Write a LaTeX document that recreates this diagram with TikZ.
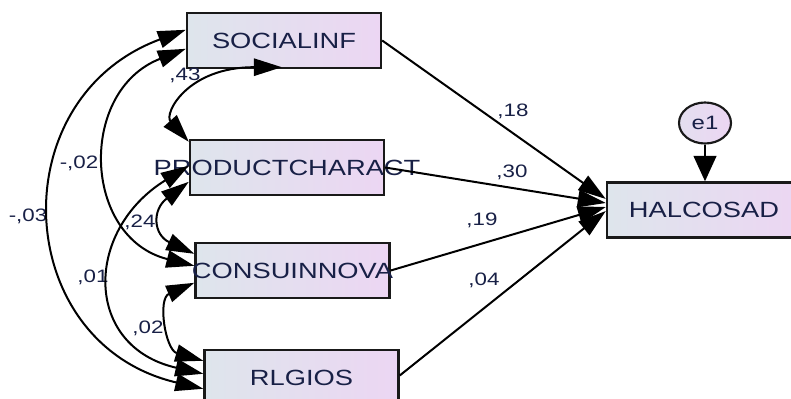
\documentclass[tikz,border=0pt]{standalone}
\usepackage{fontspec}
\setmainfont{Liberation Sans}
\usepackage{graphicx}
\usetikzlibrary{arrows.meta,calc,shapes.geometric}
\definecolor{boxL}{RGB}{222,229,236}
\definecolor{boxR}{RGB}{236,214,243}
\definecolor{txt}{RGB}{24,32,70}
\newcommand\wide[1]{\scalebox{1.24}[1]{#1}}
\begin{document}
\begin{tikzpicture}[x=0.75pt,y=-0.75pt,
  >={Triangle[length=21pt,width=13pt]},
  var/.style={draw=black!90, line width=1.8pt, left color=boxL, right color=boxR,
    minimum width=145.5pt, minimum height=41.25pt, inner sep=0pt, text=txt,
    font=\fontsize{16.5}{16.5}\selectfont},
  err/.style={ellipse, draw=black!90, line width=1.6pt, left color=boxL!60!boxR, right color=boxR,
    minimum width=39pt, minimum height=30.75pt, inner sep=0pt, text=txt,
    font=\fontsize{14.5}{14.5}\selectfont},
  lab/.style={text=txt, inner sep=0pt, font=\fontsize{13.5}{13.5}\selectfont},
  cov/.style={<->, line width=1.5pt, black},
  reg/.style={->, line width=1.5pt, black}]
\clip (0,0) rectangle (791,399);
\fill[white] (0,0) rectangle (791,399);
% variables
\node[var] (si) at (284,40.5) {\makebox[0pt]{\wide{SOCIALINF}}};
\node[var] (pc) at (287,167.5) {\makebox[0pt]{\wide{PRODUCTCHARACT}}};
\node[var] (ci) at (292.5,270.5) {\makebox[0pt]{\wide{CONSUINNOVA}}};
\node[var] (rg) at (301.5,377.5) {\makebox[0pt]{\wide{RLGIOS}}};
\node[var] (hc) at (704,210) {\makebox[0pt]{\wide{HALCOSAD}}};
\node[err] (e1) at (705,123) {\wide{e1}};
% labels
\node[lab] (l18) at (513,111) {\wide{,18}};
\node[lab] (l30) at (512,172) {\wide{,30}};
\node[lab] (l19) at (482,220) {\wide{,19}};
\node[lab] (l04) at (484,280) {\wide{,04}};
\node[lab] (l43) at (185,75) {\wide{,43}};
\node[lab] (lm02) at (79,163) {\wide{-,02}};
\node[lab] (lm03) at (28,216) {\wide{-,03}};
\node[lab] (l24) at (140,222) {\wide{,24}};
\node[lab] (l01) at (93,277) {\wide{,01}};
\node[lab] (l02) at (148,328) {\wide{,02}};
% endpoints on the boxes
\coordinate (siA) at ($(si.north west)+(0,18)$);
\coordinate (siB) at ($(si.north west)+(0,37)$);
\coordinate (siC) at ($(si.south west)+(96,-2)$);
\coordinate (pcA) at ($(pc.north west)+(0,3)$);
\coordinate (pcB) at ($(pc.north west)+(0,27)$);
\coordinate (pcC) at ($(pc.north west)+(0,43)$);
\coordinate (ciA) at ($(ci.north west)+(0,12)$);
\coordinate (ciB) at ($(ci.north west)+(0,24)$);
\coordinate (ciC) at ($(ci.north west)+(0,41)$);
\coordinate (rgA) at ($(rg.north west)+(0,12)$);
\coordinate (rgB) at ($(rg.north west)+(0,25)$);
\coordinate (rgC) at ($(rg.north west)+(0,40)$);
\coordinate (hcA) at ($(hc.west)+(0,-11)$);
\coordinate (hcB) at ($(hc.west)+(0,-7)$);
\coordinate (hcC) at ($(hc.west)+(0,-3)$);
\coordinate (hcD) at ($(hc.west)+(0,1)$);
% covariances
\draw[cov] (siA) .. controls +(-186,69) and +(-192,-45) .. (rgC);
\draw[cov] (siB) .. controls +(-108,42) and +(-112,-28) .. (ciB);
\draw[cov] (siC) .. controls +(-95,0) and +(-25,-28) .. (pcA);
\draw[cov] (pcC) .. controls +(-37,28) and +(-41,-19) .. (ciA);
\draw[cov] (pcB) .. controls +(-105,65) and +(-120,-27) .. (rgB);
\draw[cov] (ciC) .. controls +(-37,16) and +(-38,-11) .. (rgA);
% regressions
\draw[reg] (si.east) -- (hcA);
\draw[reg] (pc.east) -- (hcB);
\draw[reg] (ci.east) -- (hcC);
\draw[reg] ($(rg.east)+(0,-2)$) -- (hcD);
\draw[line width=1.5pt, -{Triangle[length=19pt,width=17pt]}] (e1.south) -- (e1 |- hc.north);
\end{tikzpicture}
\end{document}
